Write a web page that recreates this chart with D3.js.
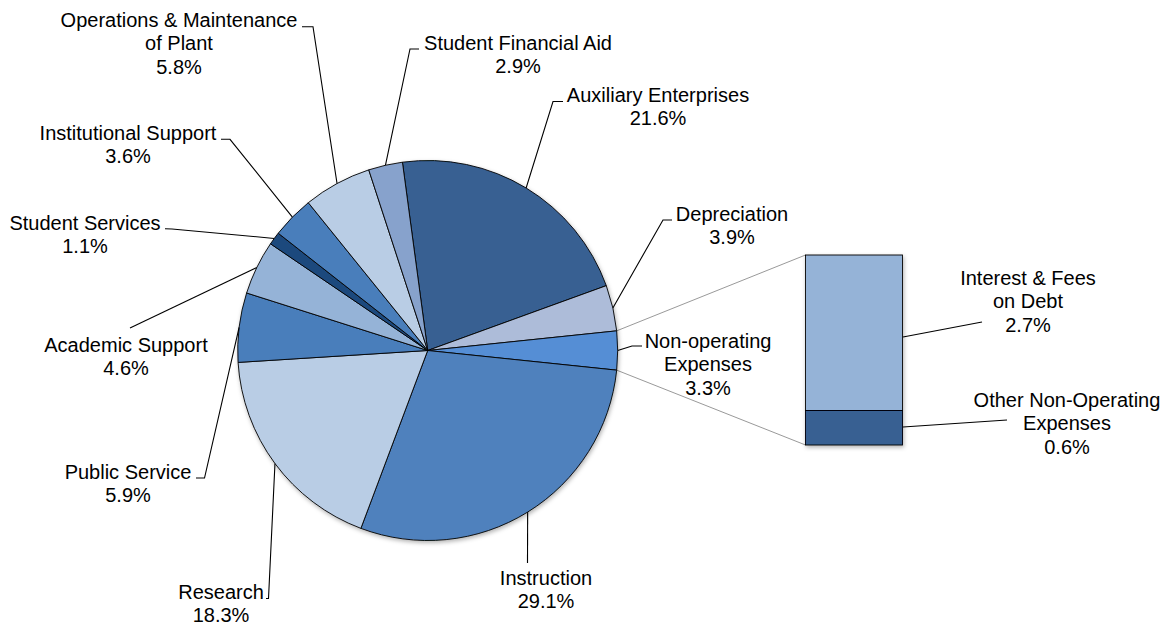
<!DOCTYPE html>
<html>
<head>
<meta charset="utf-8">
<script src="https://cdn.jsdelivr.net/npm/d3@7"></script>
<style>
  html, body { margin: 0; padding: 0; background: #ffffff; }
  svg { display: block; }
  text { font-family: "Liberation Sans", Arial, sans-serif; font-size: 20px; fill: #000; }
</style>
</head>
<body>
<svg id="chart" width="1169" height="625"></svg>
<script>
// ---- data ----
const categories = [
  "Auxiliary Enterprises", "Depreciation", "Non-operating Expenses", "Instruction",
  "Research", "Public Service", "Academic Support", "Student Services",
  "Institutional Support", "Operations & Maintenance of Plant", "Student Financial Aid"
];
const values = [21.6, 3.9, 3.3, 29.1, 18.3, 5.9, 4.6, 1.1, 3.6, 5.8, 2.9];
const splitCategory = "Non-operating Expenses";
const barCategories = ["Interest & Fees on Debt", "Other Non-Operating Expenses"];
const barValues = [2.7, 0.6];

// ---- styles / layout ----
const sliceColors = ["#376092", "#adbcd9", "#558ed5", "#4f81bd", "#b9cde5", "#4a7ebb",
  "#95b3d7", "#1f497d", "#4a7ebb", "#b9cde5", "#87a2cc"];
const barColors = ["#95b3d7", "#376092"];
const cx = 427.7, cy = 350.5, R = 190;
const lineH = 23.4;

// label layout: text lines, centre x, first baseline, leader points (from text side toward the pie)
const labelLayout = [
  { lines: ["Auxiliary Enterprises"], x: 658, y: 102, leader: [[563, 101.5], [553, 101.5]] },
  { lines: ["Depreciation"], x: 732, y: 221, leader: [[672, 220], [663, 220]] },
  { lines: ["Non-operating", "Expenses"], x: 708, y: 348, leader: [[642, 346], [632, 346]] },
  { lines: ["Instruction"], x: 546, y: 585, leader: [[527.5, 563]] },
  { lines: ["Research"], x: 221, y: 599, leader: [[266, 598.5], [268.5, 598.5]] },
  { lines: ["Public Service"], x: 128, y: 479, leader: [[196, 478], [204.5, 478]] },
  { lines: ["Academic Support"], x: 126, y: 352, leader: [[130, 328]] },
  { lines: ["Student Services"], x: 85, y: 230, leader: [[165, 228.7], [172, 229]] },
  { lines: ["Institutional Support"], x: 128, y: 140, leader: [[221, 139.3], [230, 139.3]] },
  { lines: ["Operations & Maintenance", "of Plant"], x: 179, y: 27, leader: [[302, 26.7], [313, 26.7]] },
  { lines: ["Student Financial Aid"], x: 518, y: 50, leader: [[419, 49], [410, 49]] }
];
const barLabelLayout = [
  { lines: ["Interest & Fees", "on Debt"], x: 1028, y: 285, leader: [[903, 337], [982, 322]] },
  { lines: ["Other Non-Operating", "Expenses"], x: 1067, y: 407, leader: [[903, 427], [1007, 420]] }
];

const svg = d3.select("#chart");
const defs = svg.append("defs");
const f = defs.append("filter").attr("id", "shadow").attr("x", "-20%").attr("y", "-20%").attr("width", "140%").attr("height", "140%");
f.append("feDropShadow").attr("dx", 1).attr("dy", 2).attr("stdDeviation", 2).attr("flood-color", "#000").attr("flood-opacity", 0.3);

const total = d3.sum(values);
const splitIdx = categories.indexOf(splitCategory);
const before = d3.sum(values.slice(0, splitIdx));
const start = Math.PI / 2 - (before + values[splitIdx] / 2) / total * 2 * Math.PI;

const pie = d3.pie().sort(null).value(d => d).startAngle(start).endAngle(start + 2 * Math.PI);
const arcs = pie(values);
const arc = d3.arc().innerRadius(0).outerRadius(R);

const pt = a => [cx + R * Math.sin(a), cy - R * Math.cos(a)];

// bar scale
const barTotal = d3.sum(barValues);
const barX0 = 805.5, barX1 = 902.5;
const y = d3.scaleLinear().domain([0, barTotal]).range([445, 255]);

// connector lines (split slice edges to bar corners)
const sArc = arcs[splitIdx];
const pTop = pt(sArc.startAngle), pBot = pt(sArc.endAngle);
svg.append("line").attr("x1", pTop[0]).attr("y1", pTop[1]).attr("x2", barX0).attr("y2", y(barTotal))
  .attr("stroke", "#7f7f7f").attr("stroke-width", 0.8);
svg.append("line").attr("x1", pBot[0]).attr("y1", pBot[1]).attr("x2", barX0).attr("y2", y(0))
  .attr("stroke", "#7f7f7f").attr("stroke-width", 0.8);

// pie
const gPie = svg.append("g").attr("transform", `translate(${cx},${cy})`).attr("filter", "url(#shadow)");
gPie.selectAll("path").data(arcs).join("path")
  .attr("d", arc)
  .attr("fill", (d, i) => sliceColors[i])
  .attr("stroke", "#000").attr("stroke-width", 0.9).attr("stroke-linejoin", "round");

// bar (stacked: Interest on top, Other at bottom)
let acc = barTotal;
const segs = barValues.map((v, i) => { const s = { top: acc, bot: acc - v, i }; acc -= v; return s; });
const gBar = svg.append("g").attr("filter", "url(#shadow)");
gBar.selectAll("rect").data(segs).join("rect")
  .attr("x", barX0).attr("width", barX1 - barX0)
  .attr("y", d => y(d.top)).attr("height", d => y(d.bot) - y(d.top))
  .attr("fill", d => barColors[d.i]).attr("stroke", "#000").attr("stroke-width", 0.9);

// leader lines
const gLead = svg.append("g");
arcs.forEach((a, i) => {
  const L = labelLayout[i];
  const mid = (a.startAngle + a.endAngle) / 2;
  const pts = L.leader.concat([pt(mid)]);
  gLead.append("path").attr("d", d3.line()(pts)).attr("fill", "none").attr("stroke", "#000").attr("stroke-width", 1.1);
});
barLabelLayout.forEach(L => {
  gLead.append("path").attr("d", d3.line()(L.leader)).attr("fill", "none").attr("stroke", "#000").attr("stroke-width", 1.1);
});

// labels
function drawLabel(L, value) {
  const t = svg.append("text").attr("text-anchor", "middle");
  const lines = L.lines.concat([value.toFixed(1) + "%"]);
  lines.forEach((s, k) => t.append("tspan").attr("x", L.x).attr("y", L.y + k * lineH).text(s));
}
labelLayout.forEach((L, i) => drawLabel(L, values[i]));
barLabelLayout.forEach((L, i) => drawLabel(L, barValues[i]));
</script>
</body>
</html>
